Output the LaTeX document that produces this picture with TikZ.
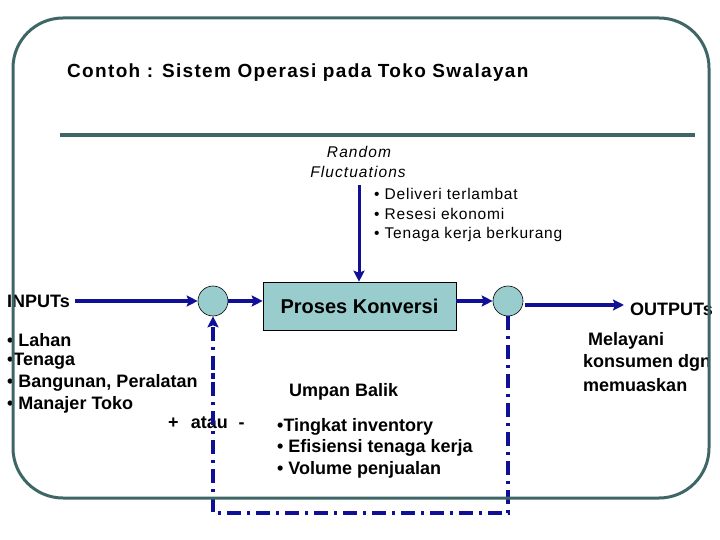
\documentclass[tikz,border=0pt]{standalone}
\usepackage{fontspec}
\setmainfont{Liberation Sans}
\usetikzlibrary{arrows.meta}
\definecolor{frameC}{RGB}{63,102,102}
\definecolor{flowC}{RGB}{16,16,150}
\definecolor{tealC}{RGB}{153,204,204}
\tikzset{
  txt/.style={anchor=west,inner sep=0pt,font=\bfseries\fontsize{18}{21}\selectfont},
  smalltxt/.style={anchor=west,inner sep=0pt,font=\fontsize{15.5}{18}\selectfont\addfontfeature{LetterSpace=5}},
  flow/.style={draw=flowC,line width=3.5pt,-{Stealth[length=11pt,width=11pt,inset=2pt]}},
  fb/.style={draw=flowC,line width=3.5pt,dash pattern=on 14pt off 6pt on 3pt off 6pt},
  junction/.style={circle,draw=black,line width=0.6pt,fill=tealC,minimum size=30pt,inner sep=0pt},
}
\begin{document}
\begin{tikzpicture}[x=1pt,y=-1pt]
\useasboundingbox (0,0) rectangle (720,540);
% title
\node[txt,font=\bfseries\fontsize{19}{22}\selectfont\addfontfeature{LetterSpace=7}] (title) at (67,73) {Contoh : Sistem Operasi pada Toko Swalayan};
\draw[frameC,line width=4pt] (60,135) -- (695,135);
% random fluctuations
\node[anchor=center,inner sep=0pt,font=\itshape\fontsize{15.5}{18}\selectfont\addfontfeature{LetterSpace=7}] (rand) at (359,152) {Random};
\node[anchor=center,inner sep=0pt,font=\itshape\fontsize{15.5}{18}\selectfont\addfontfeature{LetterSpace=7}] (fluc) at (358,172) {Fluctuations};
\node[smalltxt] (f1) at (374,194) {• Deliveri terlambat};
\node[smalltxt] (f2) at (374,214) {• Resesi ekonomi};
\node[smalltxt] (f3) at (374,234) {• Tenaga kerja berkurang};
% main row
\node[txt] (inputs) at (7,301) {INPUTs};
\node[junction] (c1) at (213,301) {};
\node[draw=black,line width=0.6pt,fill=tealC,minimum width=193pt,minimum height=48pt,inner sep=0pt,font=\bfseries\fontsize{20}{23}\selectfont] (box) at (359.5,306) {Proses Konversi};
\node[junction] (c2) at (508,301) {};
\node[txt] (outputs) at (630,309) {OUTPUTs};
\coordinate (flucTop) at (359,185);
\coordinate (outEnd) at (624,305);
\draw[flow,line width=3pt] (flucTop) -- (box.north -| flucTop);
\draw[flow] (inputs.east) ++(5,0) coordinate (inStart) -- (c1.west);
\draw[flow] (c1.east) -- (c1.east -| box.west);
\draw[flow] (c2.west -| box.east) -- (c2.west);
\draw[flow] (c2.east) ++(2,4) coordinate (oStart) -- (outEnd);
% inputs list
\node[txt] (i1) at (7,340) {• Lahan};
\node[txt] (i2) at (7,361) {•Tenaga};
\node[txt] (i3) at (7,383) {• Bangunan, Peralatan};
\node[txt] (i4) at (7,405) {• Manajer Toko};
\node[txt] (pm) at (168,423) {+\hspace{0.4em} atau\hspace{0.6em}-};
% feedback
\node[txt] (ub) at (289,392) {Umpan Balik};
\node[txt] (u1) at (277,427) {•Tingkat inventory};
\node[txt] (u2) at (277,448) {• Efisiensi tenaga kerja};
\node[txt] (u3) at (277,470) {• Volume penjualan};
\coordinate (br) at (508,513);
\coordinate (bl) at (213,513);
\draw[fb] (c2.south) -- (br) -- (bl) -- ++(0,-150);
\draw[flow,dash pattern=on 14pt off 6pt on 3pt off 6pt,dash phase=9pt] (213,390) -- (c1.south);
% outputs text
\node[txt] (o1) at (588,341) {Melayani};
\node[txt] (o2) at (583,363) {konsumen dgn};
\node[txt] (o3) at (583,385) {memuaskan};
% frame
\draw[frameC,line width=3pt,rounded corners=50pt] (13,18) rectangle (709,498);
\end{tikzpicture}
\end{document}
